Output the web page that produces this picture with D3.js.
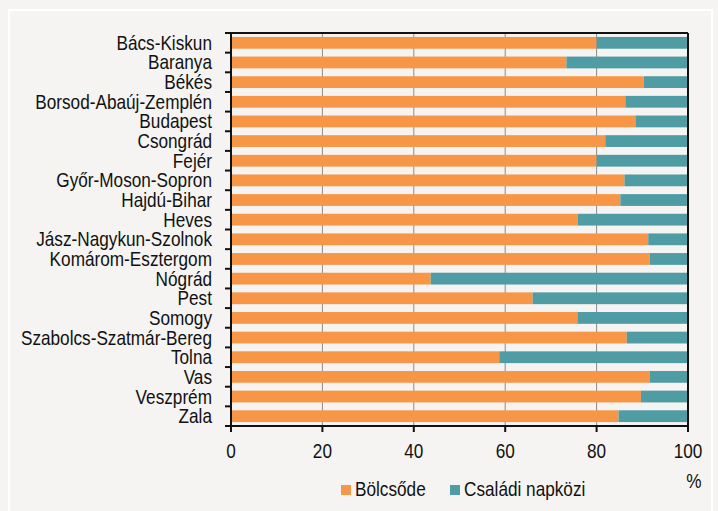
<!DOCTYPE html>
<html>
<head>
<meta charset="utf-8">
<script src="https://cdn.jsdelivr.net/npm/d3@7"></script>
<style>
  body { margin: 0; background: #f5f4f2; }
  svg text { font-family: "Liberation Sans", Arial, sans-serif; fill: #111; }
</style>
</head>
<body>
<svg width="718" height="511"></svg>
<script>
let counties = ["Bács-Kiskun", "Baranya", "Békés", "Borsod-Abaúj-Zemplén", "Budapest", "Csongrád",
    "Fejér", "Győr-Moson-Sopron", "Hajdú-Bihar", "Heves", "Jász-Nagykun-Szolnok", "Komárom-Esztergom",
    "Nógrád", "Pest", "Somogy", "Szabolcs-Szatmár-Bereg", "Tolna", "Vas", "Veszprém", "Zala"];
let bolcsode = [80.0, 73.4, 90.3, 86.3, 88.5, 81.9, 80.0, 86.1, 85.2, 75.9,
    91.3, 91.6, 43.7, 66.0, 75.8, 86.6, 58.7, 91.6, 89.7, 84.8];
let csaladi = bolcsode.map(v => +(100 - v).toFixed(1));
let xTicks = [0, 20, 40, 60, 80, 100];
let seriesNames = ["Bölcsőde", "Családi napközi"];
let colors = ["#f79646", "#4f9ca4"];

let svg = d3.select("svg");
let narrow = 0.86; // squeeze Liberation Sans to look like Arial Narrow

// outer frame
svg.append("path")
    .attr("d", "M9,520V10H712V520")
    .attr("fill", "none")
    .attr("stroke", "#fff")
    .attr("stroke-width", 2);

let x = d3.scaleLinear().domain([0, 100]).range([231, 688]);
let y = d3.scaleBand().domain(counties).range([33, 426]).paddingInner(0.4).paddingOuter(0.2);

let rows = counties.map((c, i) => ({name: c, a: bolcsode[i], b: csaladi[i]}));

// gridlines
svg.append("g")
    .selectAll("line")
    .data(xTicks.slice(1, -1))
    .join("line")
    .attr("x1", d => x(d)).attr("x2", d => x(d))
    .attr("y1", 33).attr("y2", 426)
    .attr("stroke", "#8c8c8c")
    .attr("stroke-width", 1);

let bars = svg.append("g");
bars.selectAll("rect.a")
    .data(rows)
    .join("rect")
    .attr("class", "a")
    .attr("x", x(0))
    .attr("y", d => y(d.name))
    .attr("width", d => x(d.a) - x(0))
    .attr("height", y.bandwidth())
    .attr("fill", colors[0]);
bars.selectAll("rect.b")
    .data(rows)
    .join("rect")
    .attr("class", "b")
    .attr("x", d => x(d.a))
    .attr("y", d => y(d.name))
    .attr("width", d => x(100) - x(d.a))
    .attr("height", y.bandwidth())
    .attr("fill", colors[1]);

// frame lines top / right
svg.append("line").attr("x1", 225).attr("x2", 688).attr("y1", 33).attr("y2", 33)
    .attr("stroke", "#111").attr("stroke-width", 2);
svg.append("line").attr("x1", 688).attr("x2", 688).attr("y1", 33).attr("y2", 426)
    .attr("stroke", "#111").attr("stroke-width", 2);

// y axis: labels + ticks at band boundaries
let yAxis = svg.append("g");
yAxis.append("line").attr("x1", 231).attr("x2", 231).attr("y1", 33).attr("y2", 426)
    .attr("stroke", "#111").attr("stroke-width", 2);
let step = y.step();
yAxis.selectAll("line.tk")
    .data(d3.range(counties.length + 1))
    .join("line")
    .attr("class", "tk")
    .attr("x1", 225).attr("x2", 231)
    .attr("y1", i => 33 + i * step).attr("y2", i => 33 + i * step)
    .attr("stroke", "#111").attr("stroke-width", 2);
yAxis.selectAll("text")
    .data(counties)
    .join("text")
    .attr("transform", d => `translate(212,${y(d) + y.bandwidth() / 2 + 7}) scale(${narrow},1)`)
    .attr("text-anchor", "end")
    .attr("font-size", 20)
    .text(d => d);

// x axis
let xAxis = svg.append("g");
xAxis.append("line").attr("x1", 231).attr("x2", 689).attr("y1", 426).attr("y2", 426)
    .attr("stroke", "#111").attr("stroke-width", 2);
xAxis.selectAll("line.tk")
    .data(xTicks)
    .join("line")
    .attr("class", "tk")
    .attr("x1", d => x(d)).attr("x2", d => x(d))
    .attr("y1", 426).attr("y2", 432)
    .attr("stroke", "#111").attr("stroke-width", 2);
xAxis.selectAll("text")
    .data(xTicks)
    .join("text")
    .attr("transform", d => `translate(${x(d)},458) scale(${narrow},1)`)
    .attr("text-anchor", "middle")
    .attr("font-size", 20)
    .text(d => d);
svg.append("text")
    .attr("transform", `translate(694,488) scale(${narrow},1)`)
    .attr("text-anchor", "middle")
    .attr("font-size", 20).text("%");

// legend
let legendX = [341, 450];
let legend = svg.append("g")
    .selectAll("g")
    .data(seriesNames)
    .join("g")
    .attr("transform", (d, i) => `translate(${legendX[i]},485)`);
legend.append("rect").attr("width", 10).attr("height", 10).attr("fill", (d, i) => colors[i]);
legend.append("text")
    .attr("transform", `translate(14,11) scale(${narrow},1)`)
    .attr("font-size", 20).text(d => d);
</script>
</body>
</html>
